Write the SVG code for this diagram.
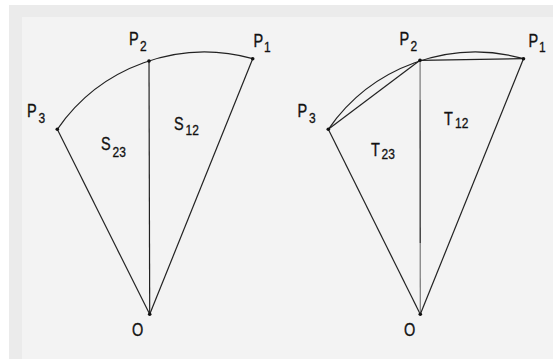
<svg xmlns="http://www.w3.org/2000/svg" width="553" height="359" viewBox="0 0 553 359">
<style>
.lbl{font-family:"Liberation Sans",Arial,sans-serif;font-size:14.5px;fill:#111;stroke:#111;stroke-width:0.3}
.sub{font-family:"Liberation Sans",Arial,sans-serif;font-size:12px;fill:#111;stroke:#111;stroke-width:0.25}
.ln{stroke:#222;stroke-width:1.2;fill:none}
.lt{stroke:#777;stroke-width:1.2;fill:none}
.dot{fill:#111}
</style>
<rect x="0" y="0" width="553" height="359" fill="#ffffff"/>
<rect x="9" y="5" width="544" height="354" fill="#ebebeb"/>
<rect x="22" y="17" width="531" height="342" fill="#f3f3f3"/>

<g id="connectors">
  <path class="ln" d="M57.3,129.3 A179.2 179.2 0 0 1 252.7,58.7"/>
  <line class="ln" x1="57.3" y1="129.3" x2="149.7" y2="314.3"/>
  <line class="ln" x1="149" y1="61" x2="149.7" y2="314.3"/>
  <line class="ln" x1="252.7" y1="58.7" x2="149.7" y2="314.3"/>

  <path class="ln" d="M328.3,129.3 A179.2 179.2 0 0 1 523.7,58.7"/>
  <line class="ln" x1="328.3" y1="129.3" x2="420" y2="60.3"/>
  <line class="ln" x1="420" y1="60.3" x2="523.5" y2="58.7"/>
  <line class="ln" x1="328.3" y1="129.3" x2="420.3" y2="314.3"/>
  <line class="lt" x1="420.1" y1="60.3" x2="420.1" y2="100"/>
  <line class="ln" x1="420.1" y1="100" x2="420.2" y2="243"/>
  <line class="lt" x1="420.2" y1="243" x2="420.3" y2="314.3"/>
  <line class="ln" x1="523.5" y1="58.7" x2="420.3" y2="314.3"/>
</g>

<g id="left-P1"><circle class="dot" cx="252.7" cy="58.7" r="1.8"/><text class="lbl" transform="matrix(1 0 0 1.22 253.5 47)">P</text><text class="sub" transform="matrix(1 0 0 1.22 264 52)">1</text></g>
<g id="left-P2"><circle class="dot" cx="149" cy="61" r="1.8"/><text class="lbl" transform="matrix(1 0 0 1.22 129 44.5)">P</text><text class="sub" transform="matrix(1 0 0 1.22 140 51)">2</text></g>
<g id="left-P3"><circle class="dot" cx="57.3" cy="129.3" r="1.8"/><text class="lbl" transform="matrix(1 0 0 1.22 27 117)">P</text><text class="sub" transform="matrix(1 0 0 1.22 38.5 123)">3</text></g>
<g id="left-O"><circle class="dot" cx="149.7" cy="314.3" r="1.8"/><text class="lbl" transform="matrix(1 0 0 1.22 132 336)">O</text></g>
<g id="left-S12"><text class="lbl" transform="matrix(1 0 0 1.22 174 130)">S</text><text class="sub" transform="matrix(1 0 0 1.22 185.5 135)">12</text></g>
<g id="left-S23"><text class="lbl" transform="matrix(1 0 0 1.22 101 150)">S</text><text class="sub" transform="matrix(1 0 0 1.22 112.5 157)">23</text></g>

<g id="right-P1"><circle class="dot" cx="523.5" cy="58.7" r="1.8"/><text class="lbl" transform="matrix(1 0 0 1.22 528.5 47)">P</text><text class="sub" transform="matrix(1 0 0 1.22 539 52)">1</text></g>
<g id="right-P2"><circle class="dot" cx="420" cy="60.3" r="1.8"/><text class="lbl" transform="matrix(1 0 0 1.22 399.5 44.5)">P</text><text class="sub" transform="matrix(1 0 0 1.22 410.5 51)">2</text></g>
<g id="right-P3"><circle class="dot" cx="328.3" cy="129.3" r="1.8"/><text class="lbl" transform="matrix(1 0 0 1.22 297.5 117)">P</text><text class="sub" transform="matrix(1 0 0 1.22 309 123)">3</text></g>
<g id="right-O"><circle class="dot" cx="420.3" cy="314.3" r="1.8"/><text class="lbl" transform="matrix(1 0 0 1.22 404 336)">O</text></g>
<g id="right-T12"><text class="lbl" transform="matrix(1 0 0 1.22 444 125)">T</text><text class="sub" transform="matrix(1 0 0 1.22 455 128)">12</text></g>
<g id="right-T23"><text class="lbl" transform="matrix(1 0 0 1.22 371 156)">T</text><text class="sub" transform="matrix(1 0 0 1.22 381.5 159)">23</text></g>
</svg>
